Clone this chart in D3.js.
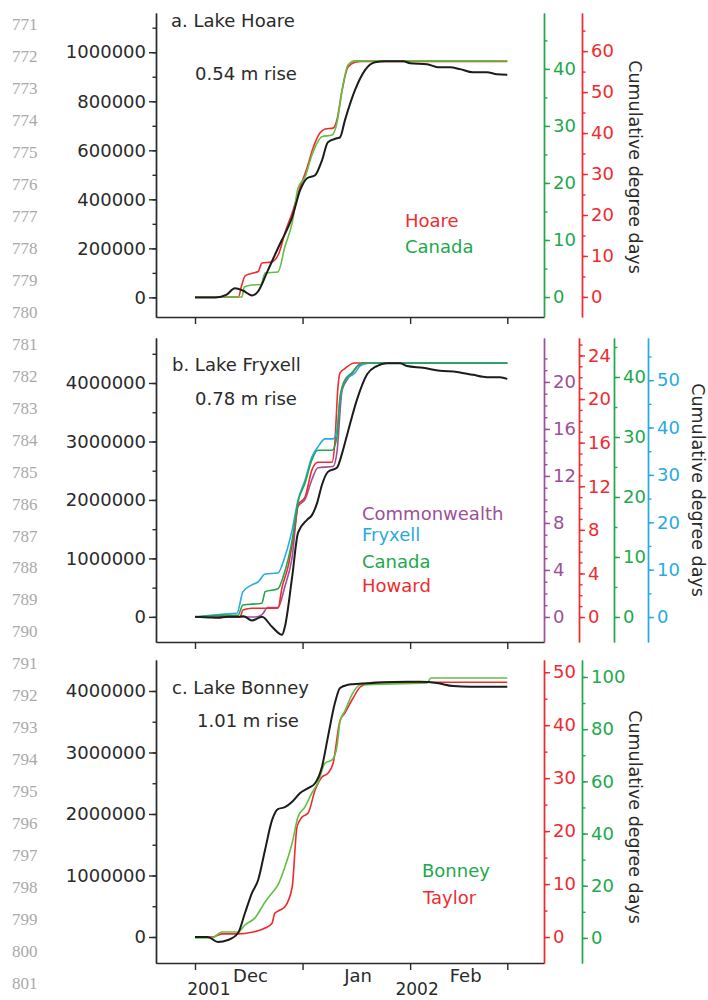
<!DOCTYPE html>
<html><head><meta charset="utf-8">
<script src="https://cdn.jsdelivr.net/npm/d3@7"></script>
<style>
body{margin:0;background:#fff;}
svg{display:block;}
</style></head><body>
<svg id="chart" width="708" height="1000"></svg>
<script>
// ---------------- DATA ----------------
// day = days since 1 Dec 2001
const lineNumbers = d3.range(771, 802);
const monthTickDays = [0, 31, 62, 90];
const monthLabels = ["Dec", "Jan", "Feb"];
const monthLabelDays = [16, 47, 78];
const yearLabels = ["2001", "2002"];
const yearLabelDays = [4, 64];

// Panel a: Lake Hoare
const hoareVolume = [[0,0],[6,0],[9,10000],[11.5,37000],[13.8,28000],[16.4,8000],[18.2,25000],[21,110000],[25,233000],[26,261000],[28,327000],[30.3,437000],[32.3,486000],[34.6,498000],[36.6,559000],[38.3,633000],[40.9,649000],[41.8,653000],[43.2,722000],[46.1,845000],[49,927000],[51.9,959000],[54.8,963000],[60,963000],[62,955000],[66.9,951000],[70,939000],[73.5,939000],[76.4,931000],[80.1,918000],[84.1,918000],[87,910000],[90,908000]];
const hoareDD = [[0,0],[12.5,0],[13.5,3],[14.5,5.2],[16.5,5.8],[18.2,6.2],[19.3,8.3],[22,8.5],[24.2,10.7],[25.9,15.6],[28,20.5],[30.3,26.8],[32.3,31.5],[34,36.3],[36,40],[37.5,41],[39.8,41.2],[40.9,43.2],[42.4,50.5],[44.1,56.1],[46.1,57.3],[48,57.5],[90,57.5]];
const canadaHoareDD = [[0,0],[13.5,0],[14.2,1.75],[16.4,2.1],[19,2.2],[20.2,4.2],[23.9,4.4],[25.9,8.8],[28,13],[29.7,19.1],[31.7,21],[33.7,24.9],[36.6,28.1],[39.5,28.4],[40.9,30.5],[42.4,36.3],[44.1,40.7],[46.1,41.4],[90,41.4]];

// Panel b: Lake Fryxell
const fryxellVolume = [[0,0],[4,-10000],[6.6,-17000],[9.5,0],[12.4,0],[14,10000],[16.4,-63000],[19.3,0],[22.2,-170000],[25.1,-308000],[25.9,-170000],[28,684000],[29.7,1440000],[32.3,1660000],[33.7,1740000],[35.2,1950000],[36.6,2260000],[38.3,2480000],[40.9,2550000],[42.4,2800000],[44,3150000],[46.7,3720000],[49.6,4150000],[52.4,4290000],[55.3,4340000],[59.1,4340000],[61.1,4290000],[65.7,4260000],[70.6,4210000],[75.5,4190000],[80.1,4140000],[84.1,4100000],[87.9,4100000],[90,4070000]];
const commonwealthDD = [[0,0],[17.3,0],[19.3,0.2],[21,0.8],[23.9,0.8],[25.9,2.6],[28,5.1],[29.7,9.4],[31.7,10],[33.7,11.7],[35.4,12.7],[39.8,12.8],[40.9,14],[42.4,19.3],[44.1,20.3],[45.5,20.8],[46.7,21.3],[49,21.6],[90,21.6]];
const fryxellDD = [[0,0],[7.8,0.6],[12.1,0.8],[13.8,5.3],[16.4,6.8],[18.2,7.4],[20.2,9.1],[23.9,9.3],[25.9,12.7],[28,18.4],[29.7,24.7],[31.7,28.9],[33.7,33.8],[35.4,35.9],[37.5,37.6],[39.8,37.6],[40.9,39.5],[41.8,45.8],[43.2,50],[46.1,51.5],[47.6,53],[50,53.6],[90,53.6]];
const canadaFryxellDD = [[0,0],[7.8,0.3],[12.4,0.3],[13.8,2],[19.3,2.3],[20.2,4.2],[23.9,4.7],[25.4,6.7],[28,12.8],[29.7,19.2],[31.7,22.3],[33.7,26.2],[35.4,27.8],[39.5,27.8],[40.9,30],[41.8,36.7],[43.2,39.5],[45.2,40.7],[48,42.3],[90,42.3]];
const howardDD = [[0,0],[13,0],[13.8,0.64],[16.4,0.8],[23.9,0.8],[25.1,2.75],[26.8,4.6],[28.8,8.3],[29.7,10.3],[31.7,11],[33.7,13.5],[35.4,14.2],[39.5,14.2],[40.3,16],[41.2,21.1],[41.8,22.4],[43.2,22.8],[46,23.3],[90,23.3]];

// Panel c: Lake Bonney
const bonneyVolume = [[0,0],[3.7,0],[6.6,-81000],[9.5,-49000],[12.4,65000],[14.4,390000],[16.4,715000],[18.2,927000],[20.2,1420000],[22.2,1900000],[23.9,2080000],[25.9,2110000],[28,2200000],[30.3,2340000],[32.6,2420000],[34.6,2500000],[36.6,2770000],[38.3,3250000],[40.3,3800000],[41.8,4050000],[44.1,4100000],[45.5,4110000],[51.3,4130000],[61.1,4150000],[64.8,4150000],[69.7,4130000],[74.4,4080000],[79.3,4070000],[90,4070000]];
const bonneyDD = [[0,0],[4.9,0],[7.8,2.3],[12.4,2.3],[14.4,5],[17.3,7.7],[20.2,13.8],[22.2,17.2],[23.9,20.3],[25.9,27.2],[28,36.4],[29.7,46.4],[31.7,50.2],[33.7,55.6],[35.4,59.4],[37.5,67],[39.5,68.2],[40.9,73.2],[41.8,83],[43.2,87],[45.5,93.9],[47.6,97],[66.9,97.7],[68,99.6],[90,99.6]];
const taylorDD = [[0,0],[4.9,0],[7.8,0.6],[12.4,0.6],[16.4,0.9],[20.2,1.7],[22.2,2.6],[23,4.5],[24.5,5.1],[25.9,5.7],[28,9.4],[29.4,20.8],[30.8,22.6],[32.6,23.4],[34.6,27.7],[36.6,30.2],[38.3,30.9],[39.8,32.8],[41.8,40.9],[43.2,42.3],[45.2,44.7],[47.6,47.2],[49.9,47.9],[52,48.1],[90,48.1]];

// ---------------- LAYOUT ----------------
const FONT = "'DejaVu Sans', Arial, sans-serif";
const C = {black:"#1c1c1c", axis:"#2a2a2a", red:"#ef2b2f", green:"#22a84c", lgreen:"#62bf44",
           purple:"#9d4f99", blue:"#29aae1", gray:"#a9a9a9"};
const start = new Date(2001, 11, 1);
const dayToDate = d => new Date(start.getTime() + d * 864e5);
const xL = 156, xR = 544;
const x = d3.scaleTime().domain([dayToDate(-11.24), dayToDate(100.58)]).range([xL, xR]);

const svg = d3.select("#chart");

// line numbers
svg.append("g").selectAll("text").data(lineNumbers).join("text")
  .attr("x", 12).attr("y", (d, i) => 30 + 31.97 * i)
  .attr("font-family", "'Liberation Serif', 'Times New Roman', serif")
  .attr("font-size", 17).attr("fill", C.gray).text(d => d);

const panels = [
  { top:13, bottom:317, leftDomain:[-80000,1160000],
    leftMajor:d3.range(0,1000001,200000), leftMinor:d3.range(0,1100001,100000),
    volume:hoareVolume,
    title:"a. Lake Hoare", titleX:171, titleY:27, rise:"0.54 m rise", riseX:195, riseY:80,
    labelX:629, labelY:167,
    axes:[
      {x:544, domain:[-3.5,49.8], major:d3.range(0,41,10), minor:d3.range(0,46,5), color:C.green},
      {x:582, domain:[-4.9,69.3], major:d3.range(0,61,10), minor:d3.range(0,66,5), color:C.red}
    ],
    series:[
      {data:hoareDD, axis:1, color:C.red},
      {data:canadaHoareDD, axis:0, color:C.lgreen}
    ],
    legend:[{text:"Hoare", x:405, y:227, color:C.red},{text:"Canada", x:405, y:253, color:C.green}]
  },
  { top:338, bottom:642, leftDomain:[-430000,4770000],
    leftMajor:d3.range(0,4000001,1000000), leftMinor:d3.range(0,4500001,500000),
    volume:fryxellVolume,
    title:"b. Lake Fryxell", titleX:172, titleY:371, rise:"0.78 m rise", riseX:195, riseY:405,
    labelX:692, labelY:490,
    axes:[
      {x:544, domain:[-2.13,23.74], major:d3.range(0,21,4), minor:d3.range(0,23,1), color:C.purple},
      {x:579, domain:[-2.29,25.6], major:d3.range(0,25,4), minor:d3.range(0,26,1), color:C.red},
      {x:614, domain:[-4.17,46.5], major:d3.range(0,41,10), minor:d3.range(0,46,5), color:C.green},
      {x:648, domain:[-5.27,58.9], major:d3.range(0,51,10), minor:d3.range(0,56,5), color:C.blue}
    ],
    series:[
      {data:commonwealthDD, axis:0, color:C.purple},
      {data:howardDD, axis:1, color:C.red},
      {data:fryxellDD, axis:3, color:C.blue},
      {data:canadaFryxellDD, axis:2, color:C.green}
    ],
    legend:[{text:"Commonwealth", x:362, y:520, color:C.purple},{text:"Fryxell", x:362, y:541, color:C.blue},
            {text:"Canada", x:362, y:568, color:C.green},{text:"Howard", x:362, y:592, color:C.red}]
  },
  { top:660, bottom:963, leftDomain:[-423000,4504000],
    leftMajor:d3.range(0,4000001,1000000), leftMinor:d3.range(0,4000001,500000),
    volume:bonneyVolume,
    title:"c. Lake Bonney", titleX:172, titleY:694, rise:"1.01 m rise", riseX:197, riseY:727,
    labelX:629, labelY:817,
    axes:[
      {x:544, domain:[-4.9,52.3], major:d3.range(0,51,10), minor:d3.range(0,51,5), color:C.red},
      {x:582, domain:[-9.6,106.5], major:d3.range(0,101,20), minor:d3.range(0,101,10), color:C.green}
    ],
    series:[
      {data:taylorDD, axis:0, color:C.red},
      {data:bonneyDD, axis:1, color:C.lgreen}
    ],
    legend:[{text:"Bonney", x:422, y:877, color:C.green},{text:"Taylor", x:423, y:904, color:C.red}]
  }
];

function styleAxis(g, color, size) {
  g.attr("font-family", FONT).attr("font-size", size).attr("color", color);
  g.selectAll("path,line").attr("stroke-width", 1.4);
}

panels.forEach((p, pi) => {
  const g = svg.append("g");
  const yL = d3.scaleLinear().domain(p.leftDomain).range([p.bottom, p.top]);

  // left axis (minor then major)
  g.append("g").attr("transform", `translate(${xL},0)`)
    .call(d3.axisLeft(yL).tickValues(p.leftMinor).tickSize(3.5).tickSizeOuter(0).tickFormat(""))
    .call(s => styleAxis(s, C.axis, 18));
  g.append("g").attr("transform", `translate(${xL},0)`)
    .call(d3.axisLeft(yL).tickValues(p.leftMajor).tickSize(7).tickPadding(3).tickSizeOuter(0).tickFormat(d3.format("d")))
    .call(s => styleAxis(s, C.axis, 18));

  // bottom axis
  g.append("g").attr("transform", `translate(0,${p.bottom})`)
    .call(d3.axisBottom(x).tickValues(monthTickDays.map(dayToDate)).tickSize(7).tickSizeOuter(0).tickFormat(""))
    .call(s => styleAxis(s, C.axis, 18));

  // right axes
  const yR = p.axes.map(a => d3.scaleLinear().domain(a.domain).range([p.bottom, p.top]));
  p.axes.forEach((a, i) => {
    g.append("g").attr("transform", `translate(${a.x},0)`)
      .call(d3.axisRight(yR[i]).tickValues(a.minor).tickSize(3.5).tickSizeOuter(0).tickFormat(""))
      .call(s => styleAxis(s, a.color, 18));
    g.append("g").attr("transform", `translate(${a.x},0)`)
      .call(d3.axisRight(yR[i]).tickValues(a.major).tickSize(6).tickPadding(3).tickSizeOuter(0).tickFormat(d3.format("d")))
      .call(s => styleAxis(s, a.color, 18));
  });

  // series
  p.series.forEach(s => {
    const ys = yR[s.axis];
    g.append("path").datum(s.data)
      .attr("fill", "none").attr("stroke", s.color).attr("stroke-width", 1.6)
      .attr("d", d3.line().x(d => x(dayToDate(d[0]))).y(d => ys(d[1])).curve(d3.curveMonotoneX));
  });
  g.append("path").datum(p.volume)
    .attr("fill", "none").attr("stroke", C.black).attr("stroke-width", 2)
    .attr("d", d3.line().x(d => x(dayToDate(d[0]))).y(d => yL(d[1])).curve(d3.curveMonotoneX));

  // texts
  const t = g.append("g").attr("font-family", FONT).attr("font-size", 18);
  t.append("text").attr("x", p.titleX).attr("y", p.titleY).attr("fill", C.axis).text(p.title);
  t.append("text").attr("x", p.riseX).attr("y", p.riseY).attr("fill", C.axis).text(p.rise);
  t.selectAll(".leg").data(p.legend).join("text").attr("class", "leg")
    .attr("x", d => d.x).attr("y", d => d.y).attr("fill", d => d.color).text(d => d.text);
  t.append("text").attr("transform", `translate(${p.labelX},${p.labelY}) rotate(90)`)
    .attr("text-anchor", "middle").attr("font-size", 17.5).attr("fill", C.axis)
    .text("Cumulative degree days");

  if (pi === panels.length - 1) {
    t.selectAll(".mon").data(monthLabels).join("text").attr("class", "mon")
      .attr("x", (d, i) => x(dayToDate(monthLabelDays[i]))).attr("y", 982)
      .attr("text-anchor", "middle").attr("fill", C.axis).text(d => d);
    t.selectAll(".yr").data(yearLabels).join("text").attr("class", "yr")
      .attr("x", (d, i) => x(dayToDate(yearLabelDays[i]))).attr("y", 995)
      .attr("text-anchor", "middle").attr("font-size", 17).attr("fill", C.axis).text(d => d);
  }
});
</script>
</body></html>
